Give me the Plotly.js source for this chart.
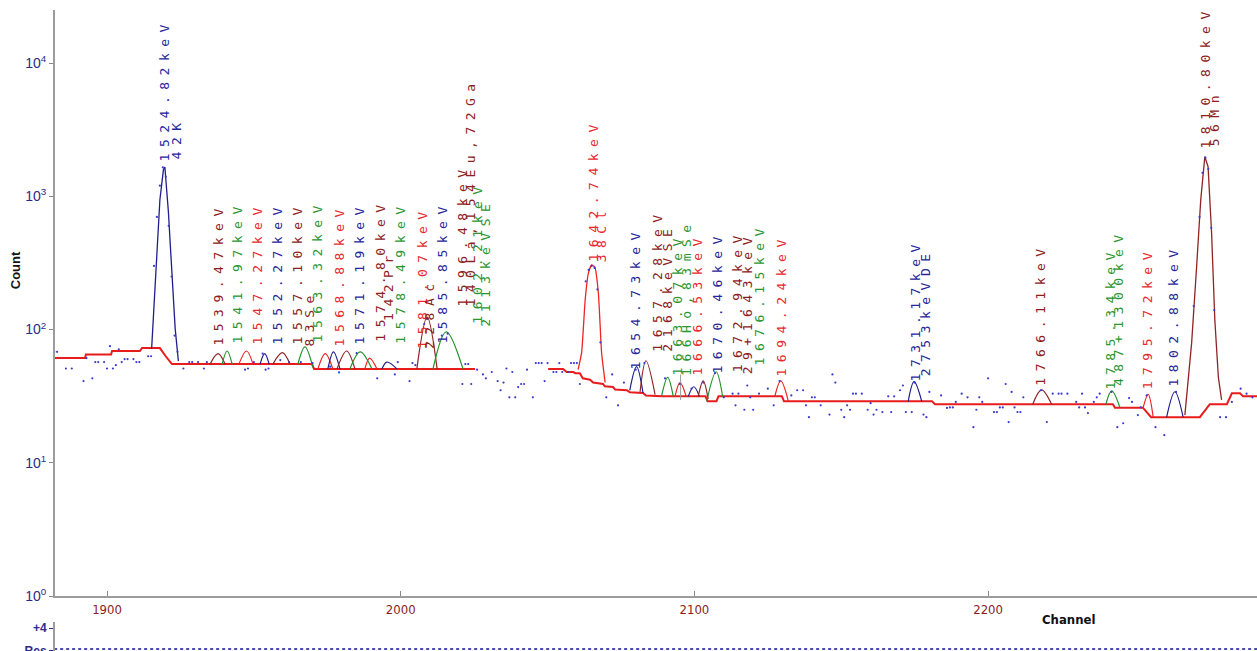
<!DOCTYPE html>
<html><head><meta charset="utf-8">
<script src="https://cdn.plot.ly/plotly-3.0.1.min.js"></script>
<style>html,body{margin:0;padding:0;background:#fff}#chart{width:1257px;height:651px}</style>
</head><body><div id="chart"></div>
<script>
// ---------------- DATA ----------------
// measured spectrum points (channel, counts)
const dotCh = [1882,1883,1886,1888,1892,1893,1895,1896,1897,1899,
1900,1901,1902,1903,1904,1905,1906,1907,1909,1910,
1911,1914,1915,1916,1917,1918,1919,1920,1921,1922,
1923,1924,1926,1928,1929,1931,1933,1934,1947,1948,
1950,1953,1954,1955,1959,1962,1966,1970,1976,1979,
1985,1992,1998,1999,2003,2004,2005,2008,2009,2014,
2016,2021,2022,2023,2024,2026,2028,2029,2031,2033,
2034,2035,2036,2037,2038,2039,2040,2041,2042,2043,
2045,2046,2047,2048,2049,2050,2052,2053,2054,2055,
2057,2058,2059,2060,2061,2063,2064,2065,2066,2067,
2068,2070,2072,2074,2076,2080,2083,2090,2095,2099,
2103,2107,2110,2113,2114,2115,2117,2118,2119,2120,
2122,2125,2127,2129,2133,2135,2137,2138,2139,2140,
2141,2143,2146,2147,2148,2150,2151,2152,2153,2154,
2155,2157,2159,2160,2161,2162,2164,2166,2167,2168,
2170,2171,2172,2174,2175,2178,2179,2180,2184,2186,
2187,2188,2189,2191,2193,2195,2196,2197,2198,2200,
2202,2203,2204,2205,2206,2207,2208,2209,2210,2211,
2212,2218,2220,2222,2224,2225,2227,2230,2231,2232,
2233,2234,2236,2237,2238,2242,2244,2246,2248,2249,
2251,2252,2254,2257,2260,2264,2270,2272,2273,2274,
2275,2276,2277,2279,2281,2283,2286,2288,2290];
const dotCount = [68,68,51,51,41,61,43,57,57,57,
51,75,51,54,71,57,60,60,60,57,
57,63,63,300,700,1200,1650,1400,600,250,
90,68,51,57,57,57,51,57,50,51,
57,66,50,51,59,57,57,56,52.6,47.6,
66.6,43,46,57,41,56,54,110,120,90,
93,39,55,55,39,50,46,43,48,41,
35,40,51,31,48,31,37,39,39,50,
31,56,56,56,41,56,48,48,56,48,
48,56,56,56,39,230,280,300,290,200,
80,31,46,27,40,50,56,43,39,36,
40,47,31,33,27,33,25,38,31,25,
33,36,27,41,32,35,35,27,22,31,
31,27,23,46,40,25,22,27,25,33,
33,33,25,28,23,25,24,31.5,24,31.5,
35,38,24,24,40,23,22,34,32,25.8,
26,26,28.6,33,31,18.5,25,31,28.6,43,
24,24,26,26,39,20.2,34,26,24,24,
31,35,20.2,33,33,33,33,28.6,26,33,
26,23.6,28.6,31,33,34,18.5,19.8,30.6,28.6,
22.8,26,32,18.5,16.1,34,150,700,1500,1950,
1600,580,140,22,22,28.6,36,33,31];

// fitted background (channel, counts)
const bgCh = [1882,1892.5,1892.8,1901.4,1901.7,1911.2,1911.9,1918,1920,1922.1,1969.8,1970.5,2025.3,null,
2050.2,2055.3,2056.5,2058.7,2059.5,2061,2062,2064.5,2065.5,2068.9,2069.5,2072.3,2073,2077,2078,2082.5,2083.5,2089,2103.8,2104.5,2107.5,2108.2,2129.8,2130.5,
2180.9,2181.9,2242.5,2243.2,2252.7,2255.5,2272.1,2275.5,2281.3,2283,2285.8,2286.8,2292];
const bgCount = [61,61,65,65,69,69,72.6,72.6,63,55,55,50.6,50.6,null,
50.6,50.6,48,48,47,47,43,42,40,39,37.5,37,35.5,35,33.8,33.4,32,31.5,31.5,28.9,28.9,31.5,31.5,28.9,
28.9,27.5,27.5,25.9,25.9,22,22,27.5,27.5,33.2,33.2,31.5,31.5];

// small fitted peaks: left base, centroid, right base (channels) and counts
const peakName  = ['1539.47','1541.97','1547.27','1552.27','1557.10','1563.32','1568.88','1571.19','1574.80','1578.49','1581.07','1585.85','1596.48','1602.21',
                   '1654.73','1657.28','1663.07','1666.53','1670.46','1672.94','1676.15','1694.24','1731.17','1766.11','1785.34','1795.72','1802.88'];
const peakColor = ['brown','green','red','navy','brown','green','red','navy','brown','green','red','navy','brown','green',
                   'navy','brown','green','red','navy','brown','green','red','navy','brown','green','red','navy'];
const peakLoCh  = [1935.1,1939.2,1944.9,1952.1,1956.5,1965.0,1971.8,1975.2,1978.3,1982.7,1987.8,1993.6,2005.5,2011.0,
                   2078.0,2081.5,2088.8,2093.4,2097.9,2101.3,2104.2,2127.4,2172.8,2215.2,2240.1,2252.8,2260.8];
const peakCh    = [1937.8,1940.9,1947.5,1953.7,1959.7,1967.4,1974.3,1977.1,1981.6,1986.2,1989.4,1995.3,2009.0,2015.5,
                   2080.3,2083.5,2090.9,2095.1,2099.8,2103.0,2107.4,2129.4,2174.8,2218.2,2242.1,2254.5,2263.6];
const peakHiCh  = [1940.2,1942.6,1949.7,1955.2,1962.3,1970.1,1976.9,1979.3,1984.4,1990.2,1991.9,1998.7,2012.4,2021.2,
                   2082.5,2086.6,2092.8,2097.2,2101.7,2104.7,2109.6,2132.0,2177.4,2221.6,2244.9,2256.2,2266.4];
const peakLoBase= [55,55,55,55,55,55,50.6,50.6,50.6,50.6,50.6,50.6,50.6,50.6,
                   35,34,31.5,31.5,31.5,31.5,28.9,31.5,28.9,27.5,27.5,25.9,22];
const peakTop   = [66,69,69,66,67,74,66,68,69,68,61,57,124,96,
                   52.6,58.3,43.8,40,37.2,41.2,48.2,41.1,40.6,35.2,34.6,32.6,34.1];
const peakHiBase= [55,55,55,55,55,52,50.6,50.6,50.6,50.6,50.6,50.6,50.6,50.6,
                   33.4,32.5,31.5,31.5,31.5,30,31.5,28.9,28.9,27.5,25.9,22,22];

// large fitted peaks (channel, counts)
const peak1524Ch = [1915.2,1916.9,1918.0,1919.2,1919.7,1920.9,1922.0,1923.2,1924.3];
const peak1524Count = [72,395,937,1580,1660,762,275,102,58];
const peak1642Ch = [2060.4,2061.6,2062.8,2063.9,2065.0,2066.1,2067.3,2068.4,2069.6];
const peak1642Count = [50,67,166,265,305,294,188,67,40];
const peak1810Ch = [2267.0,2269.3,2271.0,2272.4,2273.8,2274.9,2276.1,2277.2,2278.4,2279.5];
const peak1810Count = [22.8,79,296,937,1983,1667,530,118,44,29.6];

// cursor marker
const cursorCh = [2095.3,2095.3];
const cursorCount = [46,29.6];

// residual baseline
const residCh = [1882,2292];
const residVal = [0,0];

// peak labels
const labelText = ['1524.82keV','42K','1539.47keV','1541.97keV','1547.27keV','1552.27keV','1557.10keV','83Se','1563.32keV',
 '1568.88keV','1571.19keV','1574.80keV','142Pr','1578.49keV','1581.07keV','228Ac','1585.85keV','1596.48keV','140La,154Eu,72Ga',
 '1602.21keV','2113keVSE','1642.74keV','38Cl','1654.73keV','1657.28keV','2168keVSE','1663.07keV','166Ho,83mSe','1666.53keV',
 '1670.46keV','1672.94keV','29+1643keV','1676.15keV','1694.24keV','1731.17keV','2753keVDE','1766.11keV','1785.34keV',
 '487+1300keV','1795.72keV','1802.88keV','1810.80keV','56Mn'];
const labelColor = ['navy','navy','brown','green','red','navy','brown','brown','green',
 'red','navy','brown','brown','green','red','brown','navy','brown','brown',
 'green','green','red','red','navy','brown','brown','green','green','red',
 'navy','brown','brown','green','red','navy','navy','brown','green',
 'green','red','navy','brown','brown'];

// tick labels
const xTicks = [1900,2000,2100,2200];
const yTicks = [1,10,100,1000,10000];
const yTickText = ['10<sup>0</sup>','10<sup>1</sup>','10<sup>2</sup>','10<sup>3</sup>','10<sup>4</sup>'];

// ---------------- LAYOUT / STYLE ----------------
const lineCol = {navy:'#1e1e8c', brown:'#8f2424', green:'#24922c', red:'#ee2424'};
const textCol = {navy:'#26269a', brown:'#8c2020', green:'#2a9630', red:'#e8282c'};
// label placement (channel, counts at bottom of text)
const labelAtCh = [1919.7,1923.8,1937.8,1944.6,1951.4,1958.2,1965.0,1969.1,1971.8,1979.3,1986.1,1993.0,1996.0,1999.8,
 2007.3,2010.0,2014.4,2020.9,2023.6,2026.0,2029.0,2065.5,2068.5,2080.1,2087.3,2090.7,2094.1,2097.5,2100.9,2107.7,
 2114.8,2118.2,2122.0,2129.5,2175.1,2178.5,2217.7,2241.5,2244.2,2254.4,2263.0,2274.2,2277.2];
const labelAtCount = [1807,1871,73.9,76.5,76.5,76.5,76.5,73.9,79.2,73.9,76.5,79.2,114,76.5,
 70.2,70.2,76.5,145,145,108,104,316,316,49.7,66.6,66.6,44.1,44.1,44.1,45.6,
 47.2,45.6,52.4,43.3,40.4,44.1,37,35.2,37,35.2,36.4,2223,2344];

const traces = [];
traces.push({x:bgCh, y:bgCount, mode:'lines', line:{color:'#e81c1c', width:2}, connectgaps:false, hoverinfo:'skip'});
traces.push({x:peak1524Ch, y:peak1524Count, mode:'lines', line:{color:lineCol.navy, width:1.3}});
traces.push({x:peak1642Ch, y:peak1642Count, mode:'lines', line:{color:lineCol.red, width:1.3, shape:'spline', smoothing:0.5}});
traces.push({x:peak1810Ch, y:peak1810Count, mode:'lines', line:{color:lineCol.brown, width:1.3}});
peakName.forEach((n,i)=>{
  traces.push({x:[peakLoCh[i],peakCh[i],peakHiCh[i]], y:[peakLoBase[i],peakTop[i],peakHiBase[i]],
    mode:'lines', line:{color:lineCol[peakColor[i]], width:1.2, shape:'spline', smoothing:1}, name:n});
});
traces.push({x:cursorCh, y:cursorCount, mode:'lines', line:{color:'#9a9a9a', width:1}});
traces.push({x:dotCh, y:dotCount, mode:'markers', marker:{color:'#3a3ad0', size:2.2}});
traces.push({x:residCh, y:residVal, xaxis:'x', yaxis:'y2', mode:'lines', line:{color:'#4a4ab8', width:2, dash:'dot'}});

const annotations = labelText.map((t,i)=>({
  x: labelAtCh[i], y: Math.log10(labelAtCount[i]), xref:'x', yref:'y',
  text: '<span style="letter-spacing:6.5px">'+t+'</span>', textangle:-90, showarrow:false,
  xanchor:'center', yanchor:'bottom', borderpad:0,
  font:{family:'DejaVu Sans Mono, Liberation Mono, monospace', size:13, color:textCol[labelColor[i]]}
}));
annotations.push({x:-0.0333, y:0.594, xref:'paper', yref:'paper', xanchor:'center', yanchor:'middle',
  text:'<b>Count</b>', textangle:-90, showarrow:false,
  font:{family:'Liberation Sans, Arial, sans-serif', size:13, color:'#151515'}});
annotations.push({x:0.8428, y:0.0484, xref:'paper', yref:'paper', xanchor:'center', yanchor:'middle',
  text:'<b>Channel</b>', showarrow:false,
  font:{family:'DejaVu Sans Condensed, Liberation Sans Narrow, sans-serif', size:13, color:'#111'}});

const layout = {
  width:1257, height:651, margin:{l:55, r:0, t:10, b:0}, paper_bgcolor:'#fff', plot_bgcolor:'#fff',
  showlegend:false,
  xaxis:{range:[1882.29,2291.56], tickmode:'array', tickvals:xTicks, ticks:'inside', ticklen:5, tickcolor:'#888',
    showline:true, linecolor:'#9c9c9c', linewidth:2, showgrid:false, zeroline:false, anchor:'y',
    tickfont:{family:'DejaVu Sans Condensed, Liberation Sans Narrow, sans-serif', size:13, color:'#8b1c1c'}},
  yaxis:{type:'log', range:[0,4.398], domain:[0.0858,1], tickmode:'array', tickvals:yTicks, ticktext:yTickText,
    ticks:'outside', ticklen:4, tickcolor:'#888', showline:true, linecolor:'#9c9c9c', linewidth:2,
    showgrid:false, zeroline:false, tickfont:{family:'Liberation Sans, Arial, sans-serif', size:14, color:'#2b2b8c'}},
  yaxis2:{domain:[0,0.0452], range:[-0.38,5.14], tickmode:'array', tickvals:[4,-0.3], ticktext:['+4','Res'],
    ticks:'outside', ticklen:4, tickcolor:'#2b2b8c', showline:true, linecolor:'#9c9c9c', linewidth:2,
    showgrid:false, zeroline:false, anchor:'x', ticklabeloverflow:'allow',
    tickfont:{family:'Liberation Sans, Arial, sans-serif', size:12, color:'#2b2b8c', weight:'bold'}},
  annotations: annotations
};
Plotly.newPlot('chart', traces, layout, {staticPlot:true, displayModeBar:false});
</script>
</body></html>
